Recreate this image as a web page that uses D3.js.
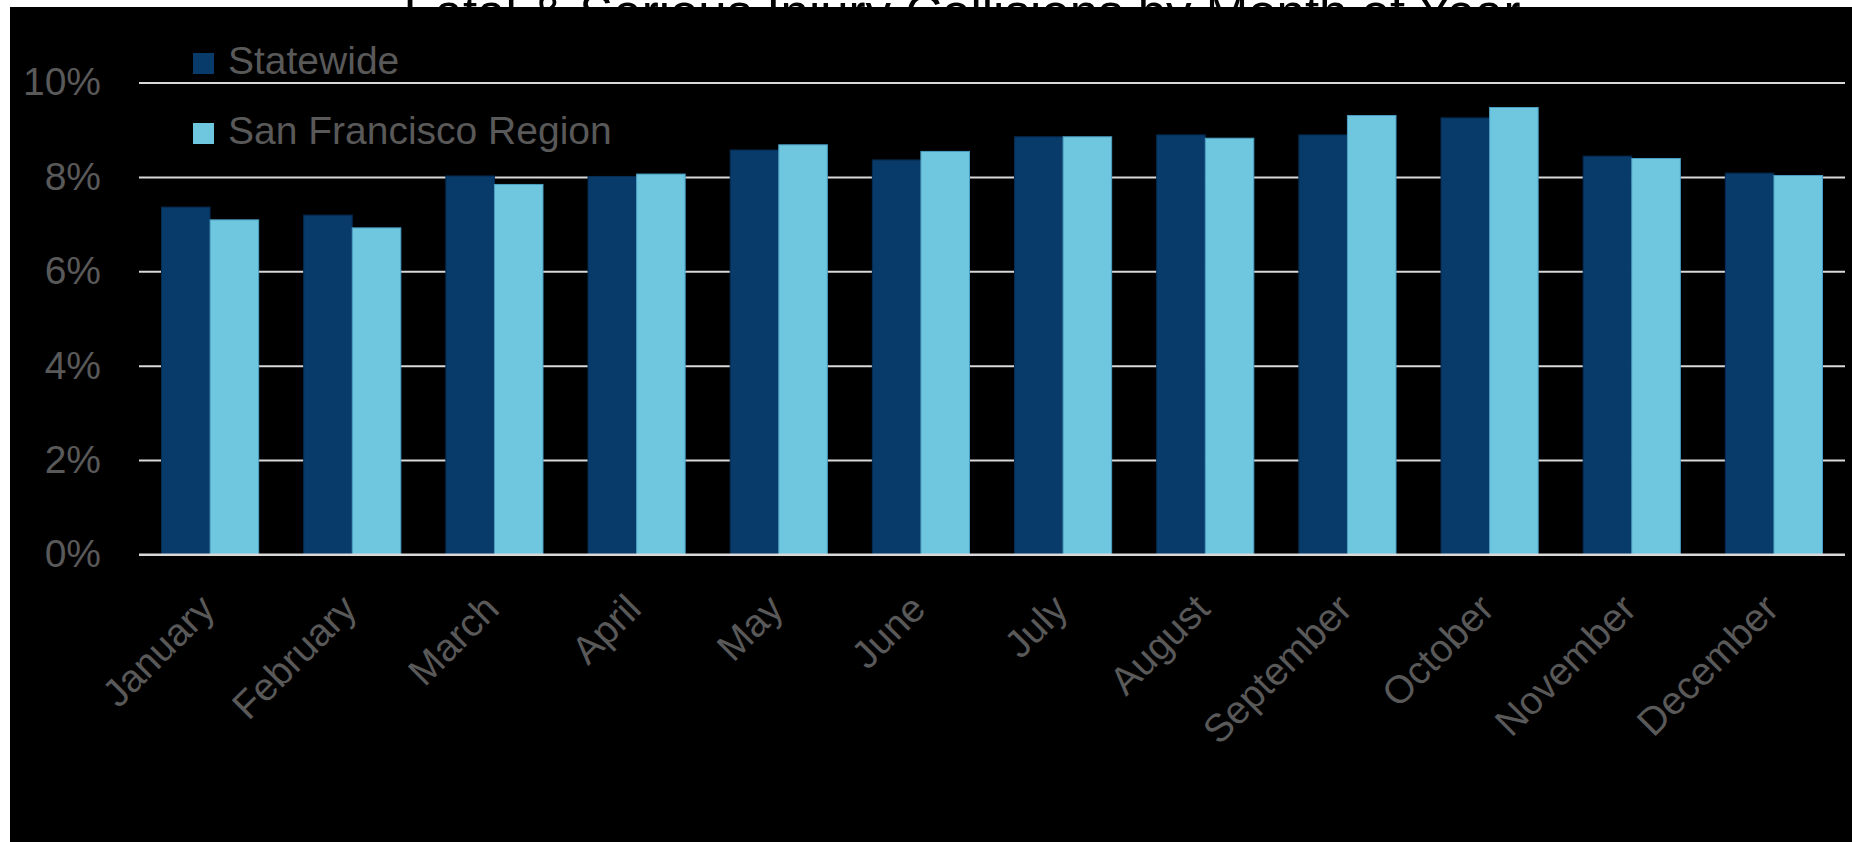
<!DOCTYPE HTML>
<html lang="en">
<head>
	<meta charset="utf-8">
	<script src="https://cdn.jsdelivr.net/npm/d3@7"></script>
	<style>
		body { margin: 0; background: #ffffff; }
		text { font-family: "Liberation Sans", Arial, sans-serif; }
	</style>
</head>
<body>
	<script>

		var titleText = "Fatal & Serious Injury Collisions by Month of Year";
		var months = ["January", "February", "March", "April", "May", "June", "July", "August", "September", "October", "November", "December"];
		var seriesNames = ["Statewide", "San Francisco Region"];
		var statewide = [7.36, 7.19, 8.02, 8.01, 8.57, 8.36, 8.85, 8.89, 8.89, 9.25, 8.44, 8.08];
		var sfRegion = [7.09, 6.92, 7.84, 8.06, 8.68, 8.54, 8.85, 8.82, 9.30, 9.47, 8.39, 8.03];
		var yTicks = [0, 2, 4, 6, 8, 10];

		var w = 1852;
		var h = 842;
		var plotLeft = 139, plotRight = 1845, plotTop = 82.5, plotBottom = 554.5;
		var colors = ["#083a6a", "#6ec6df"];
		var strokes = ["#052a50", "#4b9fc3"];
		var grey = "#595959";
		var fontSize = 39;

		var svg = d3.select("body")
			.append("svg")
			.attr("width", w)
			.attr("height", h);

		// title sits above the black panel, only its top shows
		svg.append("text")
			.attr("x", 962)
			.attr("y", 31)
			.attr("text-anchor", "middle")
			.attr("font-size", 51)
			.attr("fill", "#000")
			.text(titleText);

		svg.append("rect")
			.attr("x", 10)
			.attr("y", 7)
			.attr("width", w - 10)
			.attr("height", h - 7)
			.attr("fill", "#000");

		var data = months.map(function(m, i) {
			return { month: m, values: [statewide[i], sfRegion[i]] };
		});

		var xScale = d3.scaleBand()
			.domain(months)
			.range([plotLeft, plotRight])
			.paddingInner(0.3166)
			.paddingOuter(0.1583);

		var xInner = d3.scaleBand()
			.domain([0, 1])
			.range([0, xScale.bandwidth()]);

		var yScale = d3.scaleLinear()
			.domain([0, 10])
			.range([plotBottom, plotTop]);

		// gridlines + y labels
		var yAxis = svg.append("g")
			.attr("transform", "translate(" + plotLeft + ",0)")
			.call(d3.axisLeft(yScale)
				.tickValues(yTicks)
				.tickSize(-(plotRight - plotLeft))
				.tickPadding(38)
				.tickFormat(function(d) { return d + "%"; }));

		yAxis.select(".domain").remove();
		yAxis.selectAll("line")
			.attr("stroke", "#d9d9d9")
			.attr("stroke-width", 2);
		yAxis.selectAll("text")
			.attr("fill", grey)
			.attr("font-size", fontSize)
			.attr("font-family", "Liberation Sans, Arial, sans-serif");

		var groups = svg.selectAll(".month")
			.data(data)
			.enter()
			.append("g")
			.attr("class", "month")
			.attr("transform", function(d) { return "translate(" + xScale(d.month) + ",0)"; });

		groups.selectAll("rect")
			.data(function(d) { return d.values; })
			.enter()
			.append("rect")
			.attr("x", function(d, i) { return xInner(i); })
			.attr("y", function(d) { return yScale(d); })
			.attr("width", xInner.bandwidth())
			.attr("height", function(d) { return yScale(0) - yScale(d); })
			.attr("fill", function(d, i) { return colors[i]; })
			.attr("stroke", function(d, i) { return strokes[i]; })
			.attr("stroke-width", 1);

		// baseline over the bars
		svg.append("line")
			.attr("x1", plotLeft)
			.attr("x2", plotRight)
			.attr("y1", yScale(0))
			.attr("y2", yScale(0))
			.attr("stroke", "#d9d9d9")
			.attr("stroke-width", 2);

		var xAxis = svg.append("g")
			.attr("transform", "translate(0," + plotBottom + ")")
			.call(d3.axisBottom(xScale).tickSize(0));

		xAxis.select(".domain").remove();
		xAxis.selectAll("text")
			.attr("fill", grey)
			.attr("font-size", fontSize)
			.attr("font-family", "Liberation Sans, Arial, sans-serif")
			.attr("text-anchor", "end")
			.attr("x", 0)
			.attr("y", 0)
			.attr("dy", "0.35em")
			.attr("transform", "translate(-3,47) rotate(-45)");

		// legend
		var legend = svg.selectAll(".legend")
			.data(seriesNames)
			.enter()
			.append("g")
			.attr("class", "legend")
			.attr("transform", function(d, i) { return "translate(193," + (74 + i * 70) + ")"; });

		legend.append("rect")
			.attr("x", 0)
			.attr("y", -21)
			.attr("width", 21)
			.attr("height", 21)
			.attr("fill", function(d, i) { return colors[i]; });

		legend.append("text")
			.attr("x", 35)
			.attr("y", 0)
			.attr("fill", grey)
			.attr("font-size", fontSize)
			.text(function(d) { return d; });

	</script>
</body>
</html>
